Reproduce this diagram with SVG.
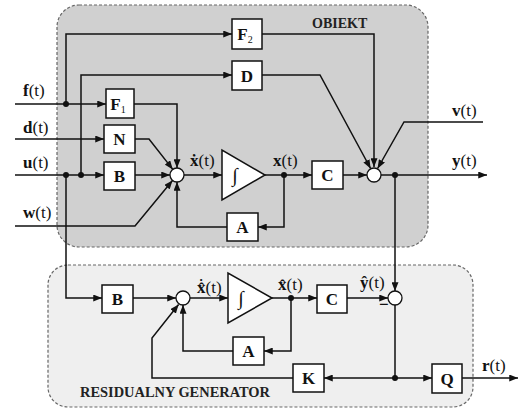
<svg xmlns="http://www.w3.org/2000/svg" width="523" height="412" viewBox="0 0 523 412">
<defs>
<marker id="ah" viewBox="0 0 10 8" refX="10" refY="4" markerWidth="9" markerHeight="7" markerUnits="userSpaceOnUse" orient="auto">
<path d="M0,0 L10,4 L0,8 z" fill="#111"/>
</marker>
<style>
.reg{stroke:#666;stroke-width:1.2;stroke-dasharray:3,2}
.box{fill:#fff;stroke:#111;stroke-width:1.5}
.sum{fill:#fff;stroke:#111;stroke-width:1.3}
.ln{fill:none;stroke:#111;stroke-width:1.5}
.ar{fill:none;stroke:#111;stroke-width:1.5;marker-end:url(#ah)}
.dot{fill:#111}
.bl{font-family:"Liberation Serif",serif;font-weight:bold;font-size:17px;fill:#111;text-anchor:middle}
.lb{font-family:"Liberation Serif",serif;font-size:17px;fill:#111}
.b{font-weight:bold}
.tt{font-family:"Liberation Serif",serif;font-weight:bold;font-size:14px;fill:#222}
.int{font-family:"Liberation Serif",serif;font-size:20px;fill:#111;text-anchor:middle}
</style>
</defs>
<rect class="reg" x="57" y="5" width="371" height="242" rx="22" fill="#d0d0d0"/>
<rect class="reg" x="48" y="265" width="425" height="142" rx="20" fill="#efefef"/>
<text class="tt" x="312" y="28">OBIEKT</text>
<text class="tt" x="80" y="397" textLength="190" lengthAdjust="spacingAndGlyphs">RESIDUALNY GENERATOR</text>

<g id="connectors">
<path class="ar" d="M15,104 H106"/>
<path class="ar" d="M15,139 H104"/>
<path class="ar" d="M15,175 H104"/>
<path class="ar" d="M66,104 V34 H232"/>
<path class="ar" d="M81,175 V75 H232"/>
<path class="ar" d="M134,104 H177 V168"/>
<path class="ar" d="M135,139 H149 L172.8,169.4"/>
<path class="ar" d="M135,175 H170"/>
<path class="ar" d="M15,226 H135 L172.5,180.4"/>
<path class="ar" d="M227,227 H177 V182"/>
<path class="ar" d="M184,175 H222"/>
<path class="ln" d="M265,175 H284"/>
<path class="ar" d="M284,175 H312"/>
<path class="ar" d="M284,175 V227 H258"/>
<path class="ar" d="M262,34 H374 V167"/>
<path class="ar" d="M262,75 H320 L370.6,168.5"/>
<path class="ar" d="M483,122 H404 L377.6,168.5"/>
<path class="ar" d="M343,175 H367"/>
<path class="ar" d="M381,175 H487"/>
<path class="ar" d="M395,175 V291"/>
<path class="ar" d="M66,175 V298 H102"/>
<path class="ar" d="M133,298 H176"/>
<path class="ar" d="M190,298 H228"/>
<path class="ln" d="M272,298 H291"/>
<path class="ar" d="M291,298 H317"/>
<path class="ar" d="M291,298 V351 H264"/>
<path class="ar" d="M233,351 H183 V305"/>
<path class="ar" d="M347,298 H388"/>
<path class="ln" d="M395,305 V378"/>
<path class="ar" d="M395,378 H432"/>
<path class="ar" d="M395,378 H324"/>
<path class="ar" d="M462,378 H518"/>
<path class="ar" d="M293,378 H152 V338 L178.6,304.5"/>
<circle class="dot" cx="66" cy="104" r="3"/>
<circle class="dot" cx="66" cy="175" r="3"/>
<circle class="dot" cx="81" cy="175" r="3"/>
<circle class="dot" cx="284" cy="175" r="3"/>
<circle class="dot" cx="395" cy="175" r="3"/>
<circle class="dot" cx="291" cy="298" r="3"/>
<circle class="dot" cx="395" cy="378" r="3"/>
</g>

<g id="F2"><rect class="box" x="232" y="19" width="30" height="30"/><text class="bl" x="245" y="40">F<tspan font-size="10" font-weight="normal" dy="3">2</tspan></text></g>
<g id="D"><rect class="box" x="232" y="61" width="30" height="29"/><text class="bl" x="247" y="81.5">D</text></g>
<g id="F1"><rect class="box" x="106" y="89" width="28" height="29"/><text class="bl" x="118" y="109.5">F<tspan font-size="10" font-weight="normal" dy="3">1</tspan></text></g>
<g id="N"><rect class="box" x="104" y="125" width="31" height="28"/><text class="bl" x="119.5" y="145">N</text></g>
<g id="B"><rect class="box" x="104" y="162" width="31" height="28"/><text class="bl" x="119.5" y="182">B</text></g>
<g id="sum1"><circle class="sum" cx="177" cy="175" r="7"/></g>
<g id="int1"><path class="box" d="M222,150 L222,200 L265,175 z"/><text class="int" x="235" y="182">∫</text></g>
<g id="A1"><rect class="box" x="227" y="213" width="31" height="28"/><text class="bl" x="242.5" y="233">A</text></g>
<g id="C1"><rect class="box" x="312" y="161" width="31" height="28"/><text class="bl" x="327.5" y="181">C</text></g>
<g id="sum2"><circle class="sum" cx="374" cy="175" r="7"/></g>

<g id="B2"><rect class="box" x="102" y="285" width="31" height="28"/><text class="bl" x="117.5" y="305">B</text></g>
<g id="sum3"><circle class="sum" cx="183" cy="298" r="7"/></g>
<g id="int2"><path class="box" d="M228,273 L228,323 L272,298 z"/><text class="int" x="241" y="305">∫</text></g>
<g id="A2"><rect class="box" x="233" y="337" width="31" height="28"/><text class="bl" x="248.5" y="357">A</text></g>
<g id="C2"><rect class="box" x="317" y="285" width="30" height="28"/><text class="bl" x="332" y="305">C</text></g>
<g id="sum4"><circle class="sum" cx="395" cy="298" r="7"/><text class="lb b" x="379" y="310" font-size="14">−</text></g>
<g id="K"><rect class="box" x="293" y="364" width="31" height="28"/><text class="bl" x="308.5" y="384">K</text></g>
<g id="Q"><rect class="box" x="432" y="364" width="30" height="29"/><text class="bl" x="447" y="384.5">Q</text></g>

<g id="labels">
<text class="lb" x="23" y="96"><tspan class="b">f</tspan>(t)</text>
<text class="lb" x="23" y="133"><tspan class="b">d</tspan>(t)</text>
<text class="lb" x="23" y="168"><tspan class="b">u</tspan>(t)</text>
<text class="lb" x="23" y="218"><tspan class="b">w</tspan>(t)</text>
<text class="lb" x="190" y="166"><tspan class="b">ẋ</tspan>(t)</text>
<text class="lb" x="273" y="166"><tspan class="b">x</tspan>(t)</text>
<text class="lb" x="452" y="116"><tspan class="b">v</tspan>(t)</text>
<text class="lb" x="452" y="166"><tspan class="b">y</tspan>(t)</text>
<text class="lb" x="197" y="293"><tspan class="b">x̂</tspan><tspan class="b" font-size="13" dx="-6" dy="-12">.</tspan><tspan dx="2.75" dy="12">(t)</tspan></text>
<text class="lb" x="278" y="290"><tspan class="b">x̂</tspan>(t)</text>
<text class="lb" x="360" y="288"><tspan class="b">ŷ</tspan>(t)</text>
<text class="lb" x="482" y="371"><tspan class="b">r</tspan>(t)</text>
</g>
</svg>
